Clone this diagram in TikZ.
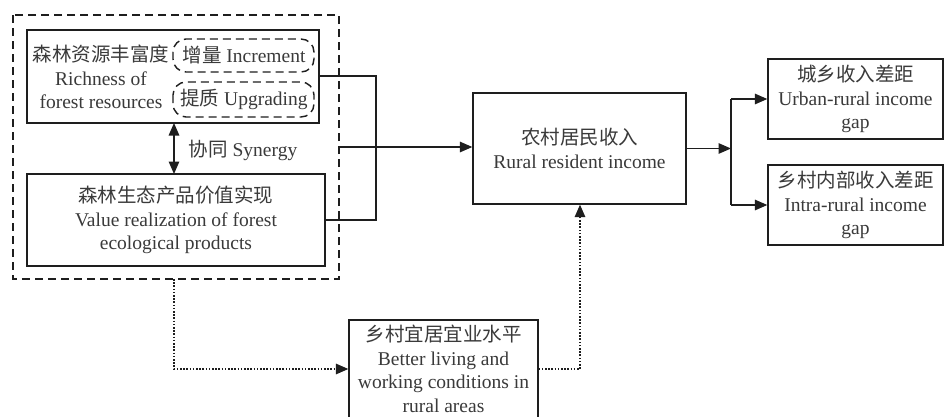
\documentclass[tikz,border=0pt]{standalone}
\usepackage{fontspec}
\setmainfont{Liberation Serif}
\newfontfamily\cjk{Noto Sans CJK SC}
\usetikzlibrary{arrows.meta}
\definecolor{txt}{HTML}{3A3A3A}
\definecolor{ln}{HTML}{1E1E1E}
\newcommand{\zh}[1]{{\cjk\fontsize{19.5}{23.5}\selectfont #1}}
\tikzset{
  every node/.style={font=\fontsize{19.5}{23.5}\selectfont, text=txt, inner sep=0pt},
  boxline/.style={draw=ln, line width=1.3pt},
  dashbox/.style={draw=ln, line width=1.4pt, dash pattern=on 8pt off 5pt},
  dotline/.style={draw=ln, line width=1.5pt, dash pattern=on 1.6pt off 1.6pt},
  arr/.style={-{Triangle[length=12.5pt,width=10.5pt]}},
  conn/.style={draw=ln, line width=1.4pt},
}
\begin{document}
\begin{tikzpicture}[x=1pt,y=-1pt]
\useasboundingbox (0,0) rectangle (946,416);
\clip (0,0) rectangle (946,416);
\fill[white] (0,0) rectangle (946,416);
% outer dashed box
\draw[dashbox] (13,15) rectangle (339,279);
\coordinate (outerE) at (339,147);
\coordinate (outerS) at (174,279);
% box 1
\draw[boxline] (27,30) rectangle (319,123);
\coordinate (b1E) at (319,76);
\coordinate (b1S) at (174,123);
\node[align=center] (b1t) at (101,77) {\zh{森林资源丰富度}\\Richness of\\forest resources};
\draw[dashbox, rounded corners=13pt] (173,39) rectangle (314,72);
\node (inc) at (244,55.5) {\zh{增量} Increment};
\draw[dashbox, rounded corners=13pt] (173,82) rectangle (314,117);
\node (upg) at (244,99.5) {\zh{提质} Upgrading};
% synergy
\node (syn) at (243,150) {\zh{协同} Synergy};
% box 2
\draw[boxline] (27,174) rectangle (325,266);
\coordinate (b2E) at (325,220);
\coordinate (b2N) at (174,174);
\node[align=center] (b2t) at (176,220) {\zh{森林生态产品价值实现}\\Value realization of forest\\ecological products};
\draw[conn, {Triangle[length=12.5pt,width=10.5pt]}-{Triangle[length=12.5pt,width=10.5pt]}] (b1S) -- (b2N);
% junction lines
\coordinate (jx) at (376,0);
\draw[conn] (b1E) -- (b1E -| jx) -- (b2E -| jx) -- (b2E);
% rural box
\node[boxline, minimum width=213pt, minimum height=111pt, align=center] (rural) at (579.5,148.5) {\zh{农村居民收入}\\Rural resident income};
\draw[conn, arr] (outerE) -- (outerE -| rural.west);
% right boxes
\node[boxline, minimum width=175pt, minimum height=80pt, align=center] (urban) at (855.5,99) {\zh{城乡收入差距}\\Urban-rural income\\gap};
\node[boxline, minimum width=175pt, minimum height=80pt, align=center] (intra) at (855.5,205) {\zh{乡村内部收入差距}\\Intra-rural income\\gap};
\coordinate (sp) at (731,148.5);
\draw[conn, arr] (rural.east) -- (sp);
\draw[conn, arr] (sp |- urban.west) -- (urban.west);
\draw[conn] (sp |- urban.west) -- (sp |- intra.west);
\draw[conn, arr] (sp |- intra.west) -- (intra.west);
% bottom box
\node[boxline, minimum width=189pt, minimum height=98pt, align=center] (liv) at (443.5,369) {\zh{乡村宜居宜业水平}\\Better living and\\working conditions in\\rural areas};
\coordinate (dl) at (174,369);
\coordinate (dr) at (580,369);
\draw[dotline, arr] (outerS) -- (dl) -- (liv.west);
\draw[dotline, arr] (liv.east) -- (dr) -- (dr |- rural.south);
\end{tikzpicture}
\end{document}
